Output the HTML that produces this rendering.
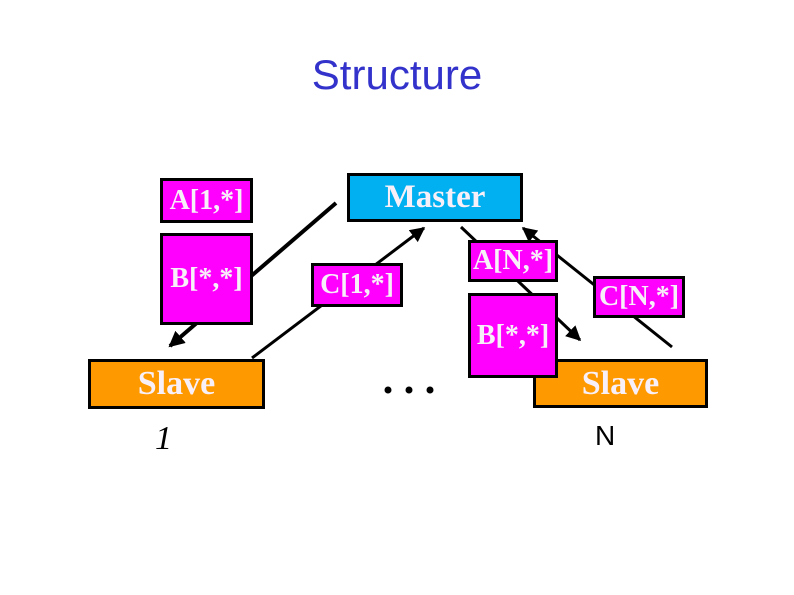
<!DOCTYPE html>
<html><head><meta charset="utf-8"><style>
html,body{margin:0;padding:0;background:#fff;}
body{width:794px;height:595px;position:relative;overflow:hidden;}
.t{position:absolute;left:0;width:794px;top:51px;text-align:center;font:42px "Liberation Sans",sans-serif;color:#3333cc;}
.b{position:absolute;box-sizing:border-box;border:3px solid #000;display:flex;align-items:center;justify-content:center;font-family:"Liberation Serif",serif;font-weight:bold;color:#f8f0f8;}
.m{background:#ff00ff;font-size:28px;}
</style></head><body>
<div class="t">Structure</div>
<svg width="794" height="595" style="position:absolute;left:0;top:0">
<defs><marker id="ah" markerWidth="4" markerHeight="4" refX="3.5" refY="2" orient="auto" markerUnits="strokeWidth"><path d="M0,0 L4,2 L0,4 z" fill="#000"/></marker>
<marker id="ah2" markerWidth="5" markerHeight="5" refX="4.5" refY="2.5" orient="auto" markerUnits="strokeWidth"><path d="M0,0 L5,2.5 L0,5 z" fill="#000"/></marker></defs>
<line x1="336" y1="203" x2="170" y2="346" stroke="#000" stroke-width="4" marker-end="url(#ah)"/>
<line x1="252" y1="358" x2="424" y2="228" stroke="#000" stroke-width="3" marker-end="url(#ah2)"/>
<line x1="461" y1="227" x2="580" y2="340" stroke="#000" stroke-width="3" marker-end="url(#ah2)"/>
<line x1="672" y1="347" x2="523" y2="228" stroke="#000" stroke-width="3" marker-end="url(#ah2)"/>
<circle cx="388" cy="390" r="3.5"/><circle cx="409" cy="390" r="3.5"/><circle cx="430" cy="390" r="3.5"/>
</svg>
<div class="b m" style="left:160px;top:178px;width:93px;height:45px;">A[1,*]</div>
<div class="b m" style="left:160px;top:233px;width:93px;height:92px;">B[*,*]</div>
<div class="b" style="left:347px;top:173px;width:176px;height:49px;background:#00b0f0;font-size:33px;">Master</div>
<div class="b m" style="left:311px;top:263px;width:92px;height:44px;">C[1,*]</div>
<div class="b" style="left:88px;top:359px;width:177px;height:50px;background:#ff9900;font-size:34px;">Slave</div>
<div class="b" style="left:533px;top:359px;width:175px;height:49px;background:#ff9900;font-size:34px;">Slave</div>
<div class="b m" style="left:468px;top:240px;width:90px;height:42px;">A[N,*]</div>
<div class="b m" style="left:468px;top:293px;width:90px;height:85px;">B[*,*]</div>
<div class="b m" style="left:593px;top:276px;width:92px;height:42px;">C[N,*]</div>
<div style="position:absolute;left:155px;top:420px;font:italic 34px 'Liberation Serif',serif;">1</div>
<div style="position:absolute;left:595px;top:420px;font:28px 'Liberation Sans',sans-serif;">N</div>
</body></html>
